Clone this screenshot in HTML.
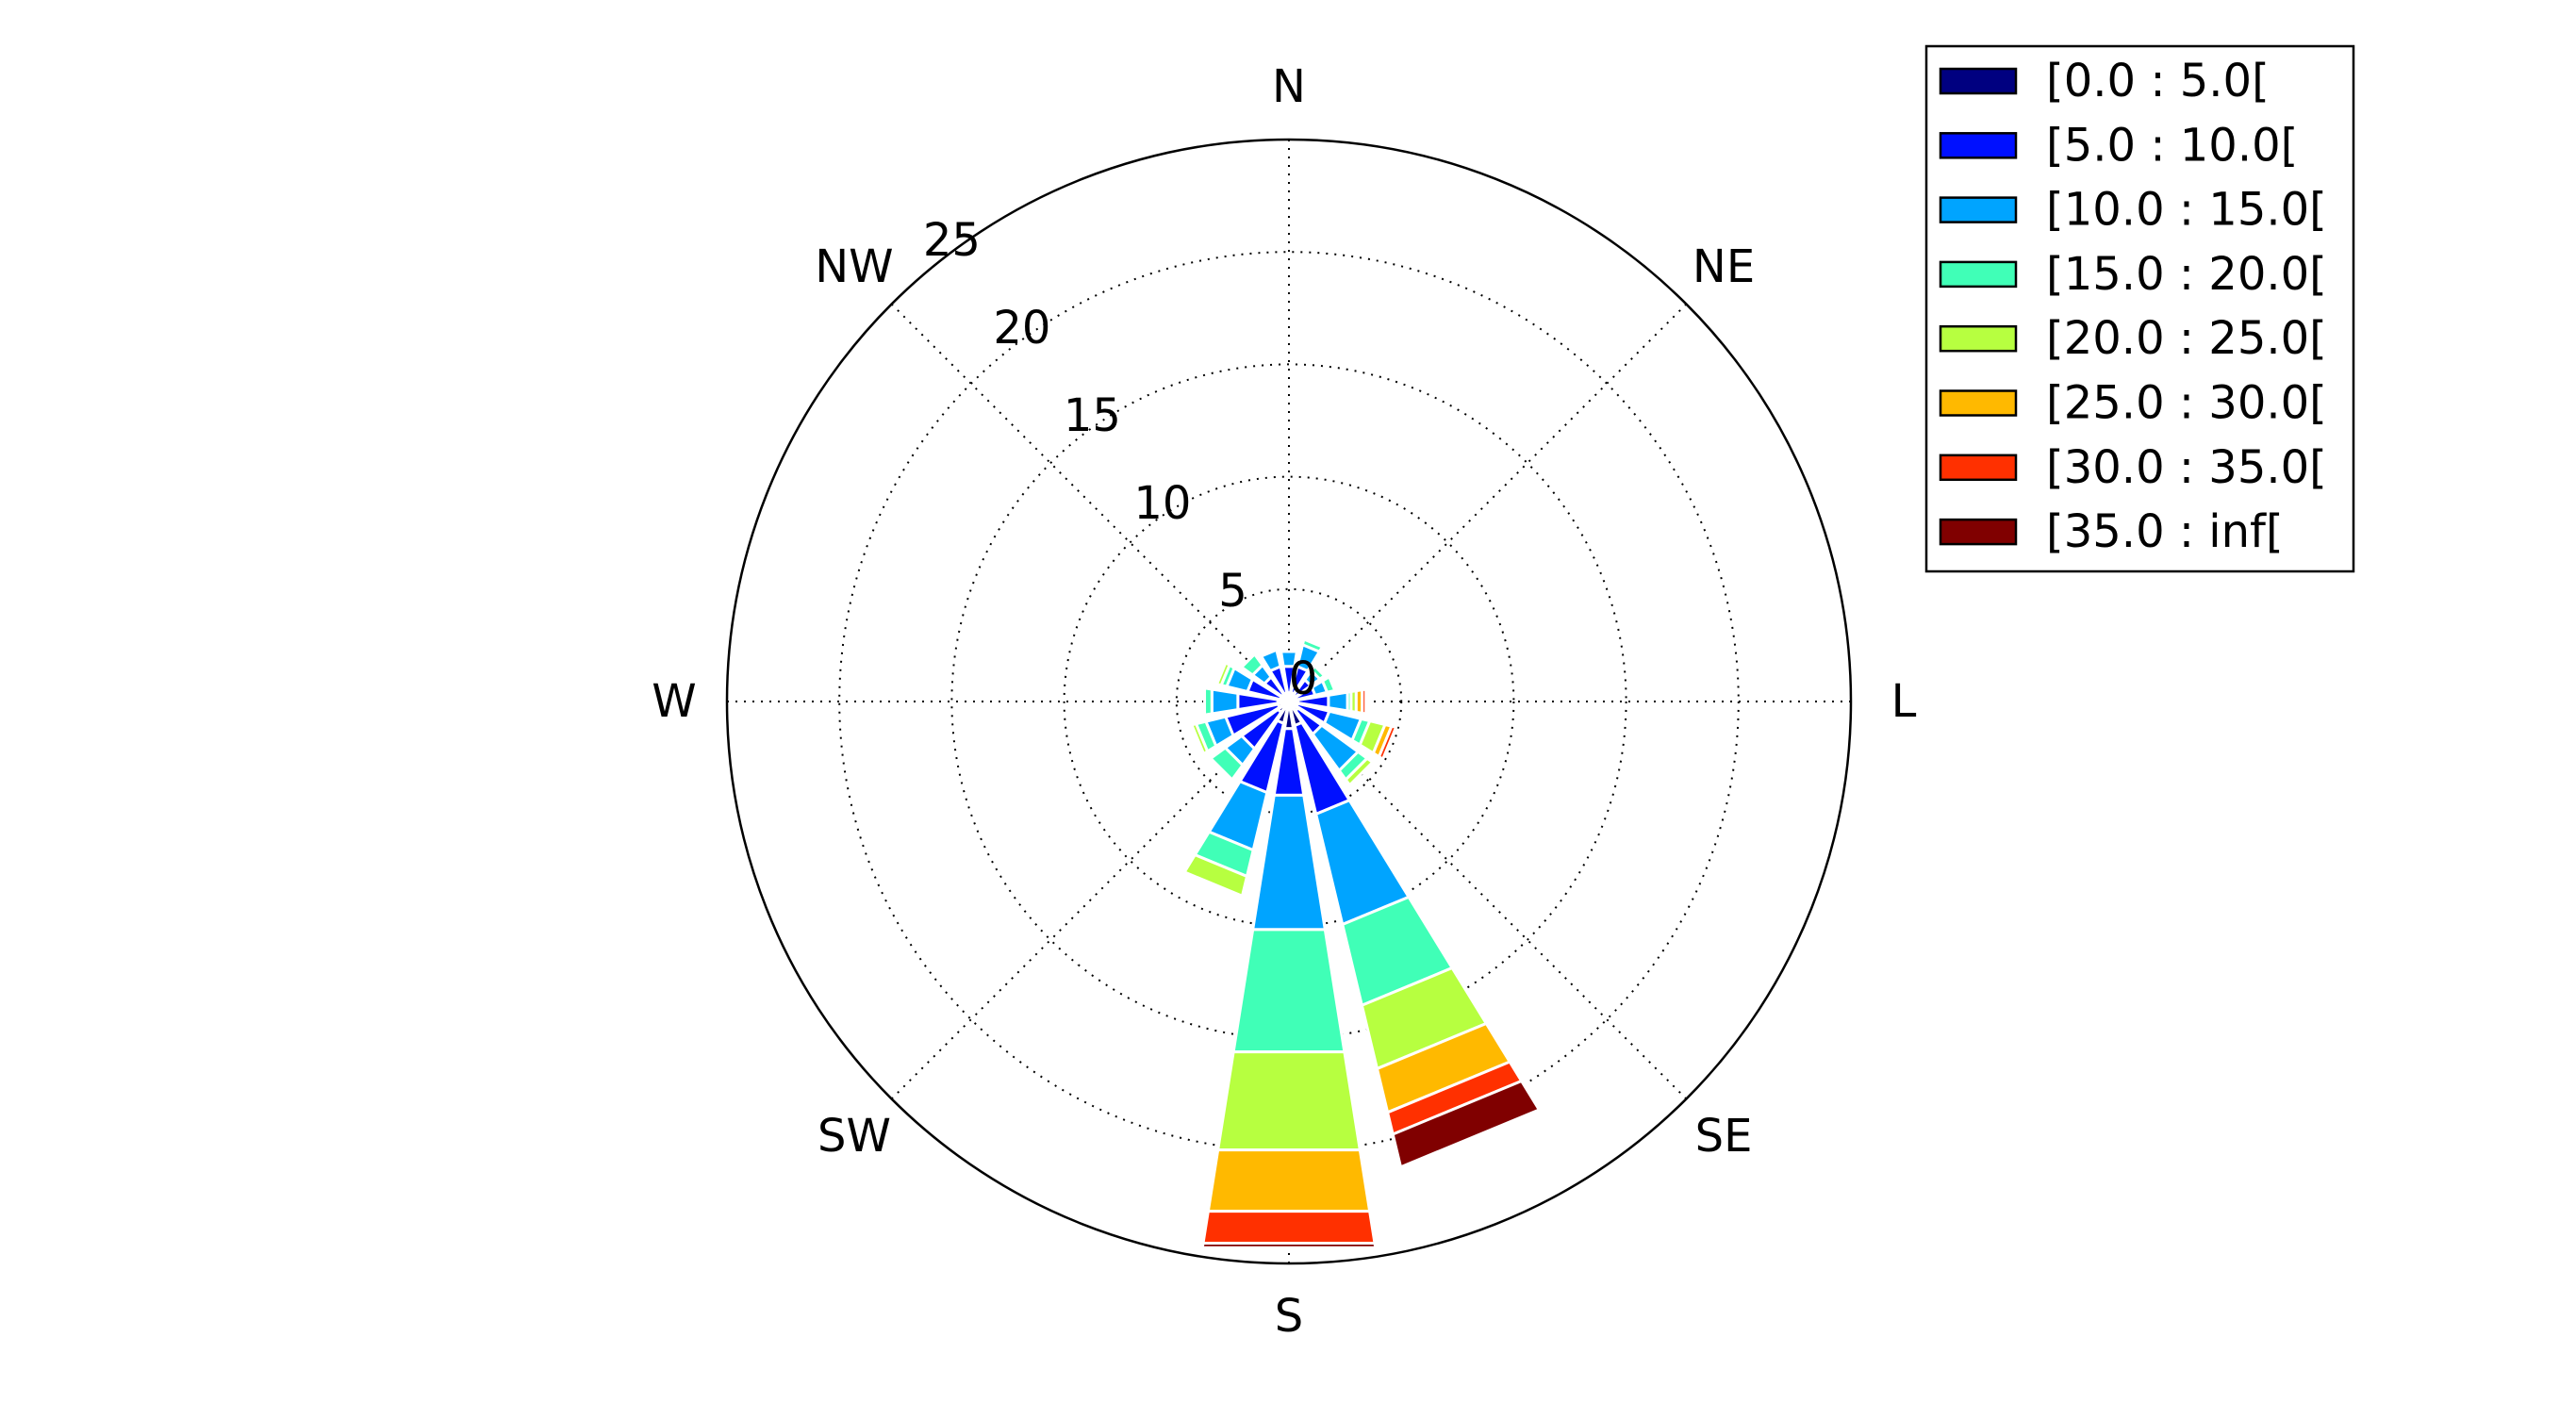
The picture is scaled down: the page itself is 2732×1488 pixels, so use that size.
<!DOCTYPE html>
<html><head><meta charset="utf-8"><title>Windrose</title>
<style>html,body{margin:0;padding:0;background:#fff}svg{display:block}text{font-family:"DejaVu Sans","Liberation Sans",sans-serif}</style>
</head><body>
<svg id="chart" width="2732" height="1488" viewBox="0 0 2732 1488" xmlns="http://www.w3.org/2000/svg">
<g id="grid"></g>
<g id="bars"></g>
<g id="labels"></g>
<g id="legend"></g>
</svg>
<script>
const directions = ["N","NNE","NE","ENE","E","ESE","SE","SSE","S","SSW","SW","WSW","W","WNW","NW","NNW"];
const binLabels = ["[0.0 : 5.0[","[5.0 : 10.0[","[10.0 : 15.0[","[15.0 : 20.0[","[20.0 : 25.0[","[25.0 : 30.0[","[30.0 : 35.0[","[35.0 : inf["];
const binColors = ["#000080","#0010ff","#00a4ff","#40ffb7","#b7ff40","#ffb900","#ff3000","#800000"];
const bin0 = [0.4,0.4,0.3,0.3,0.4,0.4,0.5,1.1,1.22,1.0,0.6,0.5,0.5,0.4,0.4,0.4];
const bin1 = [1.18,1.2,0.9,0.9,1.38,1.45,1.3,4.05,3.0,3.17,2.0,2.4,1.8,1.5,0.95,1.2];
const bin2 = [0.67,1.0,0.5,0.55,0.86,1.45,2.0,5.05,6.05,2.63,0.9,0.9,1.17,0.95,0.65,0.76];
const bin3 = [0,0.25,0.25,0.35,0.16,0.4,0.5,3.7,5.51,1.2,0.8,0.45,0.33,0.25,0.6,0];
const bin4 = [0,0,0,0,0.23,0.7,0.3,2.9,4.42,0.9,0,0.2,0,0.2,0,0];
const bin5 = [0,0,0,0,0.27,0.3,0,2.0,2.76,0,0,0,0,0,0,0];
const bin6 = [0,0,0,0,0.17,0.2,0,1.0,1.44,0,0,0,0,0,0,0];
const bin7 = [0,0,0,0,0,0,0,1.5,0.2,0,0,0,0,0,0,0];
const radialTicks = [0,5,10,15,20,25];
const compassLabels = ["N","NE","L","SE","S","SW","W","NW"];

const bins = [bin0,bin1,bin2,bin3,bin4,bin5,bin6,bin7];
const NS = "http://www.w3.org/2000/svg";
const cx = 1367, cy = 744, rMax = 25, R = 596;
function rScale(v){ return v / rMax * R; }
function pt(thetaDeg, r){ const t = thetaDeg*Math.PI/180; return [cx + r*Math.sin(t), cy - r*Math.cos(t)]; }
function mk(tag, attrs, parent){ const e = document.createElementNS(NS, tag); for (const k in attrs) e.setAttribute(k, attrs[k]); parent.appendChild(e); return e; }

const grid = document.getElementById('grid');
for (let i = 1; i < radialTicks.length - 1; i++) {
  const c = mk('circle', {cx:cx, cy:cy, r:rScale(radialTicks[i]), fill:'none', stroke:'#000', 'stroke-width':2, 'stroke-dasharray':'2 7'}, grid);
  
  
}
for (let a = 0; a < 360; a += 45) {
  const p = pt(a, R);
  const l = mk('line', {x1:cx, y1:cy, x2:p[0], y2:p[1], stroke:'#000', 'stroke-width':2, 'stroke-dasharray':'2 7'}, grid);
  
  
}

const barsG = document.getElementById('bars');
const half = 9;
directions.forEach((d, i) => {
  const theta = i * 22.5;
  let base = 0;
  bins.forEach((b, j) => {
    const v = b[i];
    if (v <= 0) return;
    const r0 = rScale(base), r1 = rScale(base + v);
    const a0 = theta - half, a1 = theta + half;
    const p1 = pt(a0, r0), p2 = pt(a0, r1), p3 = pt(a1, r1), p4 = pt(a1, r0);
    const dstr = `M${p1[0]},${p1[1]} L${p2[0]},${p2[1]} L${p3[0]},${p3[1]} L${p4[0]},${p4[1]} Z`;
    const path = mk('path', {d:dstr, fill:binColors[j], stroke:'#fff', 'stroke-width':3, 'stroke-linejoin':'miter'}, barsG);
    
    
    base += v;
  });
});

const outer = mk('circle', {cx:cx, cy:cy, r:R, fill:'none', stroke:'#000', 'stroke-width':2.5}, grid);



const labelsG = document.getElementById('labels');
compassLabels.forEach((t, i) => {
  const p = pt(i*45, 652);
  const tx = mk('text', {x:p[0], y:p[1], 'font-size':48, 'text-anchor':'middle', 'dominant-baseline':'central'}, labelsG);
  tx.textContent = t;
  
  
});
radialTicks.forEach(v => {
  const p = pt(-38.7, rScale(v));
  const tx = mk('text', {x:p[0]+15, y:p[1]-24, 'font-size':48, 'text-anchor':'middle', 'dominant-baseline':'central'}, labelsG);
  tx.textContent = String(v);
  
  
});

const leg = document.getElementById('legend');
const box = mk('rect', {x:2043, y:49, width:453, height:557, fill:'#fff', stroke:'#000', 'stroke-width':2.5}, leg);


binLabels.forEach((t, j) => {
  const yc = 86 + j*68.3;
  const sw = mk('rect', {x:2058, y:yc-13, width:80, height:26, fill:binColors[j], stroke:'#000', 'stroke-width':2.5}, leg);
  
  
  const tx = mk('text', {x:2170, y:yc, 'font-size':48, 'dominant-baseline':'central'}, leg);
  tx.textContent = t;
  
  
});
</script>
</body></html>
